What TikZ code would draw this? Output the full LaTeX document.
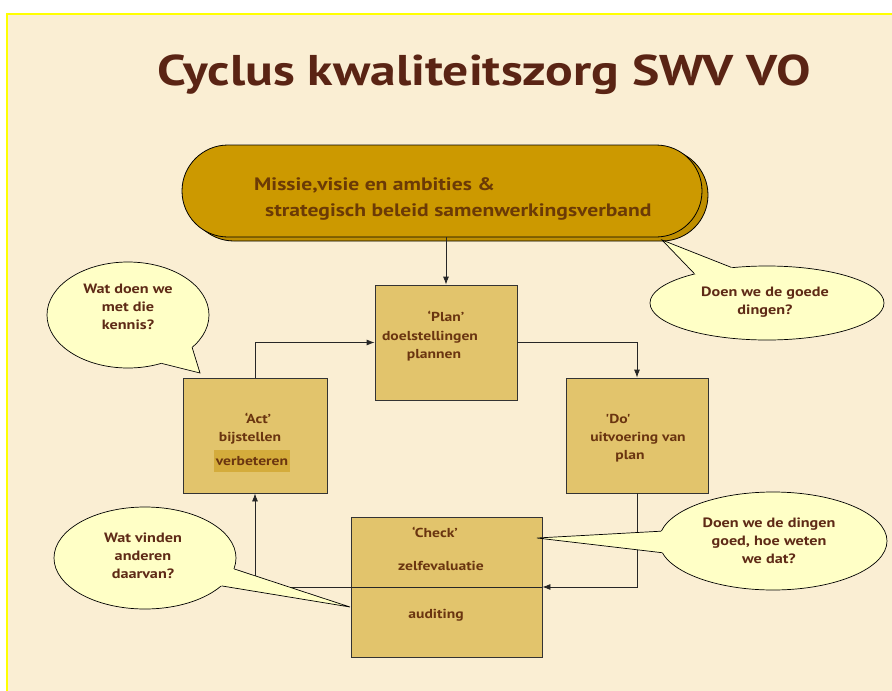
\documentclass[tikz,border=0pt]{standalone}
\usepackage{fontspec}
\setmainfont{PT Sans}[Ligatures=TeXOff, FakeStretch=1.2]
\usetikzlibrary{arrows.meta,shapes.geometric,calc,shadows}
\definecolor{bgbeige}{HTML}{FAEED3}
\definecolor{slideyellow}{HTML}{FFFF00}
\definecolor{titlebrown}{HTML}{5A2414}
\definecolor{gold}{HTML}{CC9900}
\definecolor{goldshadow}{HTML}{BF8F00}
\definecolor{goldtext}{HTML}{6B3A06}
\definecolor{boxfill}{HTML}{E2C46C}
\definecolor{hilite}{HTML}{D4AC3C}
\definecolor{callfill}{HTML}{FFFFC6}
\definecolor{boxtext}{HTML}{6A3510}
\definecolor{calltext}{HTML}{5E2A16}
\begin{document}
\begin{tikzpicture}[x=1pt,y=-1pt,
  pdca/.style={draw=black!80, line width=0.8pt, fill=boxfill, inner sep=0pt},
  topbox/.style={draw=black, line width=0.8pt, fill=gold, rounded corners=46pt,
    minimum width=520pt, minimum height=92pt, inner sep=0pt,
    drop shadow={shadow xshift=6pt, shadow yshift=-4pt, fill=goldshadow, draw=black, opacity=1}},
  callout/.style={ellipse, draw=black, line width=0.7pt, fill=callfill, inner sep=0pt},
  tailfill/.style={fill=callfill},
  tailline/.style={draw=black, line width=0.7pt, line join=miter},
  conn/.style={draw=black!85, line width=0.8pt, -{Latex[length=8pt,width=6pt]}},
  titletext/.style={font=\bfseries\fontsize{43}{50}\selectfont, text=titlebrown, anchor=base, inner sep=0pt},
  toplabel/.style={font=\bfseries\fontsize{18}{22}\selectfont, text=goldtext, anchor=base west, inner sep=0pt},
  boxlabel/.style={font=\bfseries\fontsize{13}{16}\selectfont, text=boxtext, anchor=base, inner sep=0pt},
  calllabel/.style={font=\bfseries\fontsize{13.5}{18}\selectfont, text=calltext, align=center, inner sep=0pt}
]
\useasboundingbox (0,0) rectangle (892,691);
\begin{scope}
\clip (0,0) rectangle (892,691);
\fill[white] (0,0) rectangle (892,691);
\draw[slideyellow, line width=1.5pt, fill=bgbeige] (7,14) rectangle (910,710);
\end{scope}

% title
\node[titletext] (title) at (484,85) {Cyclus kwaliteitszorg SWV VO};

% mission box
\node[topbox] (mission) at (442,191) {};
\node[toplabel] (m1) at (254,190) {Missie,visie en ambities \&};
\node[toplabel] (m2) at (265,216) {strategisch beleid samenwerkingsverband};

% PDCA boxes
\node[pdca, minimum width=142pt, minimum height=115pt] (plan) at (446,342.5) {};
\node[pdca, minimum width=144pt, minimum height=115pt] (act) at (255,435.5) {};
\node[pdca, minimum width=142pt, minimum height=115pt] (do) at (637,435.5) {};
\node[pdca, minimum width=191pt, minimum height=140pt] (check) at (446.5,587) {};

\node[boxlabel] (planA) at (446,321) {‘Plan’};
\node[boxlabel] (planB) at (430,340) {doelstellingen};
\node[boxlabel] (planC) at (434,358) {plannen};

\node[boxlabel] (actA) at (258,423) {‘Act’};
\node[boxlabel] (actB) at (250,441) {bijstellen};
\fill[hilite] (214,450) rectangle (290,472);
\node[boxlabel] (actC) at (252,465) {verbeteren};

\node[boxlabel] (doA) at (618,423) {'Do'};
\node[boxlabel] (doB) at (638,441) {uitvoering van};
\node[boxlabel] (doC) at (630,459) {plan};

\node[boxlabel] (chkA) at (435,537) {‘Check’};
\node[boxlabel] (chkB) at (441,570) {zelfevaluatie};
\node[boxlabel] (chkC) at (436,618) {auditing};

% connectors
\draw[conn] (plan.north |- mission.south) -- (plan.north);
\draw[conn] (plan.east) -| (do.north);
\draw[conn] (do.south) |- (check.east);
\draw[conn] (check.east) -| (act.south);
\draw[conn] (act.north) |- (plan.west);

% callouts
\coordinate (t1) at (200,373);
\coordinate (t2) at (662,240);
\coordinate (t3) at (350,607);
\coordinate (t4) at (537,538);

\node[callout, minimum width=162pt, minimum height=106pt] (e1) at (128,315) {};
\fill[tailfill] ($(e1.center)!0.8!(e1.-27)$) -- (e1.-27) -- (t1) -- (e1.-55) -- ($(e1.center)!0.8!(e1.-55)$) -- cycle;
\draw[tailline] (e1.-27) -- (t1) -- (e1.-55);
\node[calllabel] (e1t) at (128,307) {Wat doen we\\met die\\kennis?};

\node[callout, minimum width=234pt, minimum height=74pt] (e2) at (767,303) {};
\fill[tailfill] ($(e2.center)!0.8!(e2.158)$) -- (e2.158) -- (t2) -- (e2.135) -- ($(e2.center)!0.8!(e2.135)$) -- cycle;
\draw[tailline] (e2.158) -- (t2) -- (e2.135);
\node[calllabel] (e2t) at (765,302) {Doen we de goede\\dingen?};

\node[callout, minimum width=182pt, minimum height=102pt] (e3) at (145,558) {};
\fill[tailfill] ($(e3.center)!0.8!(e3.-7)$) -- (e3.-7) -- (t3) -- (e3.-20) -- ($(e3.center)!0.8!(e3.-20)$) -- cycle;
\draw[tailline] (e3.-7) -- (t3) -- (e3.-20);
\node[calllabel] (e3t) at (143,556) {Wat vinden\\anderen\\daarvan?};

\node[callout, minimum width=228pt, minimum height=98pt] (e4) at (773,541) {};
\fill[tailfill] ($(e4.center)!0.8!(e4.175)$) -- (e4.175) -- (t4) -- (e4.186) -- ($(e4.center)!0.8!(e4.186)$) -- cycle;
\draw[tailline] (e4.175) -- (t4) -- (e4.186);
\node[calllabel] (e4t) at (769,541) {Doen we de dingen\\goed, hoe weten\\we dat?};
\end{tikzpicture}
\end{document}
